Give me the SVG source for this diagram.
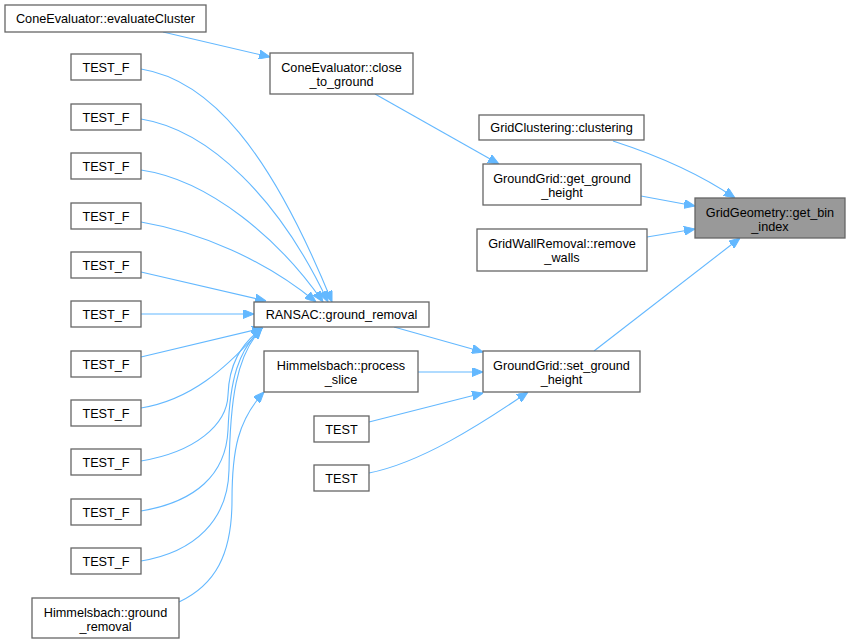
<svg xmlns="http://www.w3.org/2000/svg" width="850" height="644" viewBox="0 0 850 644">
<style>
.n rect{fill:#ffffff;stroke:#666666;stroke-width:1.3}
.n.hl rect{fill:#999999}
.n text{font-family:"Liberation Sans",Arial,sans-serif;font-size:12.7px;fill:#000000;text-anchor:middle}
.e path{fill:none;stroke:#63b8ff;stroke-width:1.1;marker-end:url(#ah)}
</style>
<defs>
<marker id="ah" markerUnits="userSpaceOnUse" markerWidth="11" markerHeight="9" refX="11" refY="4.5" orient="auto">
<path d="M0,0 L11,4.5 L0,9 z" fill="#63b8ff" stroke="#63b8ff" stroke-width="1"/>
</marker>
</defs>
<rect x="0" y="0" width="850" height="644" fill="#ffffff"/>
<g id="edges" class="e">
<path d="M163,32 L270,57"/>
<path d="M375,94 L499,164"/>
<path d="M613,141 C650,153 697,172 735,198"/>
<path d="M641,196 L695,206"/>
<path d="M647,237 L695,229"/>
<path d="M594,351 L740,238"/>
<path d="M394,327 L483,352"/>
<path d="M418,372 L483,372"/>
<path d="M369,422 L483,393"/>
<path d="M369,473 C420,463 480,425 528,392"/>
<path d="M141,69 C210,80 270,150 332,302"/>
<path d="M141,119 C210,130 280,200 328,302"/>
<path d="M141,170 C210,180 280,240 323,302"/>
<path d="M141,222 C200,232 265,260 316,302"/>
<path d="M141,272 L266,301"/>
<path d="M141,314 L254,314"/>
<path d="M141,357 L263,328"/>
<path d="M141,408 C190,400 225,370 262,328"/>
<path d="M141,461 C195,452 227,425 228,395 C229,365 240,345 262,328"/>
<path d="M141,511 C195,502 226,475 228,430 C230,380 238,350 262,328"/>
<path d="M141,561 C195,552 228,520 229,470 C230,400 236,355 262,328"/>
<path d="M179,602 C215,585 232,555 232,500 C232,450 238,420 264,392"/>
</g>
<g id="evaluateCluster" class="n"><rect x="5" y="5" width="201" height="27"/><text x="105.5" y="23">ConeEvaluator::evaluateCluster</text></g>
<g id="close_to_ground" class="n"><rect x="270" y="53" width="143" height="41"/><text x="341.5" y="71.5">ConeEvaluator::close</text><text x="341.5" y="85.5">_to_ground</text></g>
<g id="testf1" class="n"><rect x="71" y="54" width="70" height="26"/><text x="106" y="71.5">TEST_F</text></g>
<g id="testf2" class="n"><rect x="71" y="104" width="70" height="26"/><text x="106" y="121.5">TEST_F</text></g>
<g id="testf3" class="n"><rect x="71" y="153" width="70" height="26"/><text x="106" y="170.5">TEST_F</text></g>
<g id="testf4" class="n"><rect x="71" y="203" width="70" height="26"/><text x="106" y="220.5">TEST_F</text></g>
<g id="testf5" class="n"><rect x="71" y="252" width="70" height="26"/><text x="106" y="269.5">TEST_F</text></g>
<g id="testf6" class="n"><rect x="71" y="301" width="70" height="26"/><text x="106" y="318.5">TEST_F</text></g>
<g id="testf7" class="n"><rect x="71" y="351" width="70" height="26"/><text x="106" y="368.5">TEST_F</text></g>
<g id="testf8" class="n"><rect x="71" y="400" width="70" height="26"/><text x="106" y="417.5">TEST_F</text></g>
<g id="testf9" class="n"><rect x="71" y="449" width="70" height="26"/><text x="106" y="466.5">TEST_F</text></g>
<g id="testf10" class="n"><rect x="71" y="499" width="70" height="26"/><text x="106" y="516.5">TEST_F</text></g>
<g id="testf11" class="n"><rect x="71" y="548" width="70" height="26"/><text x="106" y="565.5">TEST_F</text></g>
<g id="h_ground_removal" class="n"><rect x="32" y="598" width="147" height="40"/><text x="105.5" y="616.5">Himmelsbach::ground</text><text x="105.5" y="630.5">_removal</text></g>
<g id="ransac" class="n"><rect x="254" y="302" width="175" height="25"/><text x="341.5" y="319">RANSAC::ground_removal</text></g>
<g id="process_slice" class="n"><rect x="264" y="351" width="154" height="41"/><text x="341" y="369.5">Himmelsbach::process</text><text x="341" y="383.5">_slice</text></g>
<g id="test1" class="n"><rect x="314" y="416" width="55" height="26"/><text x="341.5" y="433.5">TEST</text></g>
<g id="test2" class="n"><rect x="314" y="465" width="55" height="26"/><text x="341.5" y="482.5">TEST</text></g>
<g id="clustering" class="n"><rect x="479" y="115" width="165" height="25"/><text x="561.5" y="132">GridClustering::clustering</text></g>
<g id="get_ground_height" class="n"><rect x="483" y="164" width="158" height="41"/><text x="562" y="182.5">GroundGrid::get_ground</text><text x="562" y="196.5">_height</text></g>
<g id="remove_walls" class="n"><rect x="477" y="229" width="170" height="42"/><text x="562" y="247.5">GridWallRemoval::remove</text><text x="562" y="261.5">_walls</text></g>
<g id="set_ground_height" class="n"><rect x="483" y="351" width="157" height="41"/><text x="561.5" y="369.5">GroundGrid::set_ground</text><text x="561.5" y="383.5">_height</text></g>
<g id="get_bin_index" class="n hl"><rect x="695" y="198" width="150" height="40"/><text x="770" y="216.5">GridGeometry::get_bin</text><text x="770" y="230.5">_index</text></g>
</svg>
